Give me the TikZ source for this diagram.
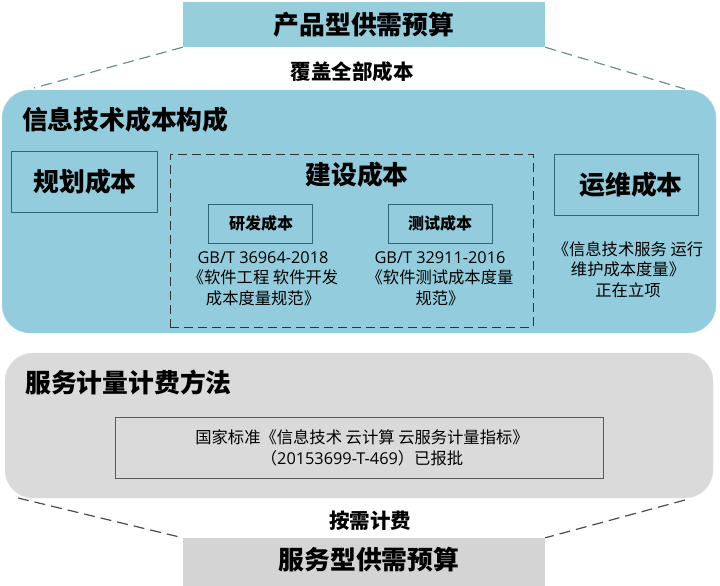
\documentclass[tikz,border=0pt]{standalone}
\usepackage{fontspec}
\setmainfont{Noto Sans CJK SC}
\newfontfamily\latinf{Open Sans}
\definecolor{bluefill}{HTML}{93CDDD}
\definecolor{topfill}{HTML}{96CEDC}
\definecolor{tealline}{HTML}{2F6779}
\definecolor{grayfill}{HTML}{DADADA}
\definecolor{botfill}{HTML}{D4D4D4}
\definecolor{dashblue}{HTML}{6F8D97}
\begin{document}
\begin{tikzpicture}[x=1pt,y=-1pt,
  big/.style={font=\fontsize{25.8}{30}\selectfont\bfseries},
  mid/.style={font=\fontsize{20.5}{24}\selectfont\bfseries},
  small/.style={font=\fontsize{16}{19}\selectfont\bfseries},
  body/.style={font=\fontsize{16.3}{20.5}\selectfont, align=center, inner sep=0pt},
  region/.style={rounded corners=28pt, inner sep=0pt},
  tbox/.style={draw=tealline, line width=0.9pt, inner sep=0pt},
  conn/.style={dashed, dash pattern=on 11pt off 6pt, line width=1.2pt}]
\useasboundingbox (0,0) rectangle (720,586);
% regions
\node[region, fill=bluefill, draw=bluefill!70!white, minimum width=714pt, minimum height=243pt] (blue) at (359,211.5) {};
\node[region, fill=grayfill, draw=grayfill!80!white, minimum width=708pt, minimum height=145pt] (gray) at (359,425.5) {};
% top and bottom boxes
\node[fill=topfill, minimum width=362pt, minimum height=45pt, inner sep=0pt] (top) at (364,24.5) {};
\node[big] (toptxt) at (364,25) {产品型供需预算};
\node[fill=botfill, minimum width=362pt, minimum height=50pt, inner sep=0pt] (bot) at (364,563) {};
\node[big] (bottxt) at (369,560) {服务型供需预算};
% dashed connectors
\coordinate (tl) at (34,88);
\coordinate (tr) at (685,89);
\coordinate (bl) at (18,498);
\coordinate (br) at (685,500);
\draw[conn, draw=dashblue] (top.south west) -- (tl);
\draw[conn, draw=dashblue] (top.south east) -- (tr);
\draw[conn, draw=black!70] (bl) -- (bot.north west);
\draw[conn, draw=black!70] (br) -- (bot.north east);
\node[mid] (cover) at (352,72) {覆盖全部成本};
\node[mid] (ondemand) at (370,521) {按需计费};
% blue region content
\node[big, anchor=west, inner sep=0pt] (bluetitle) at (22,120) {信息技术成本构成};
\node[tbox, minimum width=146pt, minimum height=61pt] (plan) at (84,181.5) {};
\node[big] (plantxt) at (85,181.5) {规划成本};
\node[draw=black!80, line width=0.9pt, dash pattern=on 9pt off 5pt, minimum width=363pt, minimum height=173pt, inner sep=0pt] (build) at (351.5,240.5) {};
\node[big] (buildtxt) at (357,175) {建设成本};
\node[tbox, minimum width=104pt, minimum height=39pt] (dev) at (260,223.5) {};
\node[small] (devtxt) at (261,223.5) {研发成本};
\node[tbox, minimum width=104pt, minimum height=39pt] (test) at (440,223.5) {};
\node[small] (testtxt) at (440,223.5) {测试成本};
\node[body, anchor=north] (devstd) at (263,251) {{\latinf GB/T 36964-2018}\\《软件工程 软件开发\\成本度量规范》};
\node[body, anchor=north] (teststd) at (440,251) {{\latinf GB/T 32911-2016}\\《软件测试成本度量\\规范》};
\node[tbox, minimum width=144pt, minimum height=61pt] (ops) at (626,184.5) {};
\node[big] (opstxt) at (631,184.5) {运维成本};
\node[body, anchor=north] (opsstd) at (628,241) {《信息技术服务 运行\\维护成本度量》\\正在立项};
% gray region content
\node[big, anchor=west, inner sep=0pt] (graytitle) at (25,383) {服务计量计费方法};
\node[draw=black!65, line width=0.9pt, minimum width=488pt, minimum height=61pt, inner sep=0pt] (std) at (359,447.5) {};
\node[body] (stdtxt) at (362,448) {国家标准《信息技术 云计算 云服务计量指标》\\（{\latinf 20153699-T-469}）已报批};
\end{tikzpicture}
\end{document}
